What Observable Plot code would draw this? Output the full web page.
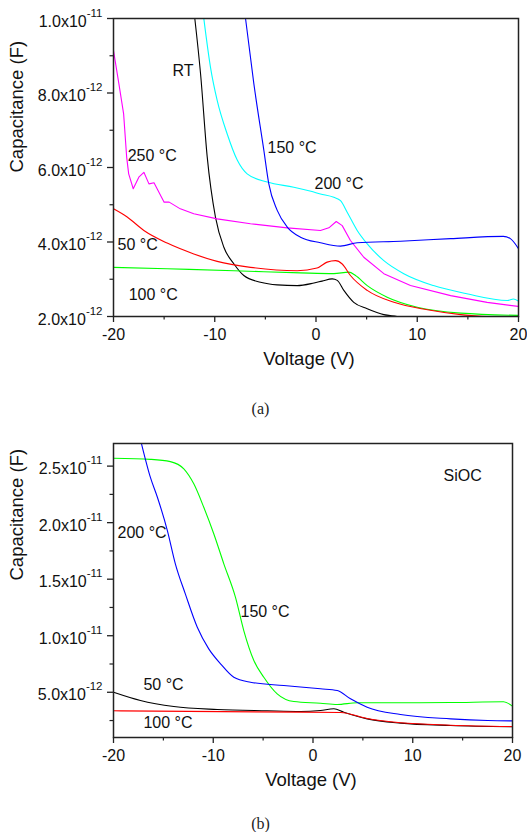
<!DOCTYPE html>
<html><head><meta charset="utf-8">
<script src="https://cdn.jsdelivr.net/npm/d3@7"></script>
<script src="https://cdn.jsdelivr.net/npm/@observablehq/plot@0.6"></script>
<style>
body{margin:0;background:#fff;width:527px;height:832px;overflow:hidden;position:relative;font-family:"Liberation Sans",Arial,sans-serif}
.panel{position:absolute;left:0}
.cap{position:absolute;left:-3px;width:527px;text-align:center;font-family:"Liberation Serif","DejaVu Serif",serif;font-size:16px;line-height:16px;color:#222}
svg text{font-family:"Liberation Sans",Arial,sans-serif}
</style></head><body>
<div id="a" class="panel" style="top:0"></div>
<div class="cap" style="top:401px">(a)</div>
<div id="b" class="panel" style="top:425px"></div>
<div class="cap" style="top:816px">(b)</div>
<script>
// ---------- data (V in volts, C in pF = 1e-12 F) ----------
// Panel (a)
const aRT = [[-11.97,10.0],[-11.4,8.51],[-10.75,6.3],[-9.93,4.67],[-9.1,3.86],[-8.1,3.41],[-7.13,3.10],[-5.48,2.92],[-3.83,2.85],[-1.86,2.83],[-0.2,2.90],[0.6,2.95],[1.6,3.01],[2.1,2.97],[2.75,2.70],[3.73,2.38],[5.06,2.21],[6.7,2.05],[8.0,2.0],[9.0,1.95]];
const a150 = [[-6.96,10.0],[-6.14,8.25],[-5.15,6.46],[-4.66,5.56],[-3.83,4.85],[-2.84,4.40],[-1.53,4.13],[0.44,3.98],[2.42,3.89],[4.07,3.98],[8.35,4.02],[13.3,4.09],[18.5,4.15],[19.2,4.09],[20,3.82]];
const a200 = [[-11.08,10.0],[-10.42,8.69],[-9.76,7.80],[-8.77,6.90],[-7.78,6.2],[-6.8,5.83],[-4.82,5.61],[-2.19,5.47],[-0.5,5.36],[0.44,5.29],[1.76,5.20],[2.42,5.11],[3.08,4.80],[4.07,4.31],[5.06,3.95],[6.7,3.50],[8.67,3.15],[11.6,2.83],[14.9,2.61],[18.9,2.43],[19.5,2.47],[20,2.41]];
const a250 = [[-20,9.14],[-19.47,8.25],[-19.0,7.44],[-18.7,6.28],[-18.5,5.83],[-18.05,5.43],[-17.5,5.74],[-17.0,5.87],[-16.5,5.56],[-16.0,5.59],[-15.0,5.07],[-14.5,5.07],[-13.4,4.89],[-12.07,4.76],[-9.76,4.62],[-6.47,4.49],[-2.84,4.38],[0.44,4.31],[1.27,4.38],[2.0,4.55],[2.59,4.44],[3.4,4.04],[4.72,3.59],[6.7,3.15],[9.33,2.83],[13.3,2.56],[16.9,2.38],[20,2.27]];
const a50 = [[-20,4.89],[-18.65,4.67],[-17.0,4.31],[-14.7,3.97],[-12.07,3.68],[-9.76,3.48],[-6.47,3.32],[-1.86,3.23],[0.1,3.30],[1.1,3.46],[1.93,3.50],[2.59,3.41],[3.4,3.10],[5.06,2.70],[7.7,2.38],[11.0,2.18],[14.3,2.05],[16.9,2.0],[20,1.99]];
const a100 = [[-20,3.32],[-14.7,3.28],[-8.1,3.23],[-1.53,3.17],[1.76,3.15],[3.24,3.19],[3.9,3.10],[5.06,2.83],[7.03,2.52],[10.0,2.25],[14.3,2.09],[20,2.03]];
// Panel (b) SiOC
const b150 = [[-20,25.7],[-16.3,25.6],[-14.3,25.4],[-12.95,24.76],[-11.95,23.43],[-10.95,21.36],[-9.94,19.0],[-8.94,16.36],[-7.77,13.4],[-6.94,10.46],[-5.93,7.81],[-4.93,6.33],[-3.59,4.86],[-1.92,4.18],[0.75,4.03],[2.42,3.92],[4.43,4.07],[8.77,4.07],[13.8,4.09],[19.1,4.16],[20,3.77]];
const b200 = [[-17.2,27.0],[-16.3,24.0],[-15.6,22.25],[-14.6,19.3],[-13.8,16.36],[-12.8,13.7],[-11.6,10.75],[-10.45,8.84],[-9.27,7.52],[-7.94,6.33],[-6.27,5.89],[-2.93,5.6],[0.75,5.31],[2.43,5.16],[3.76,4.42],[5.43,3.68],[8.77,3.03],[13.8,2.65],[17.5,2.5],[20,2.47]];
const b50 = [[-20,5.0],[-17.3,4.27],[-13.95,3.74],[-9.6,3.48],[-4.6,3.36],[-1.25,3.30],[0.75,3.39],[2.09,3.54],[3.09,3.24],[5.43,2.65],[8.77,2.27],[13.8,2.06],[20,1.95]];
const b100 = [[-20,3.36],[-1.25,3.24],[2.76,3.21],[5.43,2.68],[8.77,2.30],[13.8,2.09],[20,1.97]];

// ticks
const xMajor = [-20,-10,0,10,20];
const xMinor = [-15,-5,5,15];
const yMajorA = [2,4,6,8,10];
const yMinorA = [3,5,7,9];
const yMajorB = [5,10,15,20,25];
const yMinorB = [2.5,7.5,12.5,17.5,22.5];

// curve labels [text, V, C(pF)]
const labelsA = [["RT",-14.17,8.60],["250 \u00B0C",-18.6,6.32],["150 \u00B0C",-4.79,6.54],["200 \u00B0C",-0.15,5.57],["50 \u00B0C",-19.6,3.91],["100 \u00B0C",-18.5,2.59]];
const labelsB = [["200 \u00B0C",-19.6,19.13],["150 \u00B0C",-7.27,12.14],["50 \u00B0C",-17.0,5.69],["100 \u00B0C",-17.0,2.33],["SiOC",13.08,24.1]];

const P = 1e-12;
const rows = arr => arr.map(([v,c]) => ({V:v, C:c*P}));
const toF = arr => arr.map(c => c*P);
function sci(v){ const e=Math.floor(Math.log10(v)+1e-9); const m=v/Math.pow(10,e); return m.toFixed(1)+"x10|"+e; }
const FONT = "'Liberation Sans', Arial, sans-serif";

function panel({series, labels, yDomain, yMajor, yMinor, height, marginBottom, marginRight, yLabelDy, xLabelDx}) {
  const marks = [];
  for (const s of series) {
    marks.push(Plot.line(rows(s.data), {x:"V", y:"C", stroke:s.color, strokeWidth:1.1, curve:s.curve||"monotone-x", clip:true}));
  }
  marks.push(Plot.frame({stroke:"#222", strokeWidth:1.5}));
  marks.push(Plot.axisX({ticks:xMajor, tickSize:6, tickPadding:6, tickFormat:d=>String(d), label:null, fontSize:16, stroke:"#222", strokeWidth:1.3}));
  marks.push(Plot.axisX({ticks:xMinor, tickSize:3.5, tickFormat:()=>"", label:null, stroke:"#222", strokeWidth:1.2}));
  marks.push(Plot.axisY({ticks:toF(yMajor), tickSize:6, tickPadding:5, tickFormat:sci, label:null, fontSize:16, stroke:"#222", strokeWidth:1.3}));
  marks.push(Plot.axisY({ticks:toF(yMinor), tickSize:3.5, tickFormat:()=>"", label:null, stroke:"#222", strokeWidth:1.2}));
  marks.push(Plot.text(labels, {x:d=>d[1], y:d=>d[2]*P, text:d=>d[0], textAnchor:"start", fontSize:16, fill:"#111"}));
  marks.push(Plot.text(["Voltage (V)"], {text:d=>d, frameAnchor:"bottom", dy:48, dx:xLabelDx, fontSize:18.5, fill:"#111"}));
  marks.push(Plot.text(["Capacitance (F)"], {text:d=>d, frameAnchor:"left", rotate:-90, dx:-96, dy:yLabelDy, fontSize:18.5, fill:"#111"}));
  const svg = Plot.plot({
    width:527, height, marginTop:18, marginBottom, marginLeft:113, marginRight,
    style:{fontFamily:FONT, fontSize:"16px", color:"#111", background:"white", overflow:"visible"},
    x:{domain:[-20,20]},
    y:{domain:yDomain},
    marks
  });
  // superscript exponents on the y tick labels
  svg.querySelectorAll('g[aria-label="y-axis tick label"] text').forEach(t => {
    const s = t.textContent; if (!s.includes("|")) return;
    const [m,e] = s.split("|");
    t.textContent = "";
    const ns = "http://www.w3.org/2000/svg";
    const t1 = document.createElementNS(ns,"tspan"); t1.textContent = m; t1.setAttribute("dy","3");
    const t2 = document.createElementNS(ns,"tspan"); t2.textContent = e; t2.setAttribute("dy","-10"); t2.setAttribute("font-size","11.5");
    t.appendChild(t1); t.appendChild(t2);
  });
  return svg;
}

document.getElementById("a").appendChild(panel({
  series:[
    {data:aRT, color:"#000000"},
    {data:a100, color:"#00ff00"},
    {data:a50, color:"#ff0000"},
    {data:a250, color:"#ff00ff", curve:"linear"},
    {data:a200, color:"#00ffff"},
    {data:a150, color:"#0000ff"}
  ],
  labels:labelsA, yDomain:[2*P,10*P], yMajor:yMajorA, yMinor:yMinorA,
  height:380, marginBottom:64, marginRight:9, yLabelDy:5, xLabelDx:-7
}));

document.getElementById("b").appendChild(panel({
  series:[
    {data:b50, color:"#000000"},
    {data:b100, color:"#ff0000"},
    {data:b150, color:"#00ff00"},
    {data:b200, color:"#0000ff"}
  ],
  labels:labelsB, yDomain:[1*P,27*P], yMajor:yMajorB, yMinor:yMinorB,
  height:380, marginBottom:68, marginRight:15, yLabelDy:-10, xLabelDx:-2
}));
</script>
</body></html>
